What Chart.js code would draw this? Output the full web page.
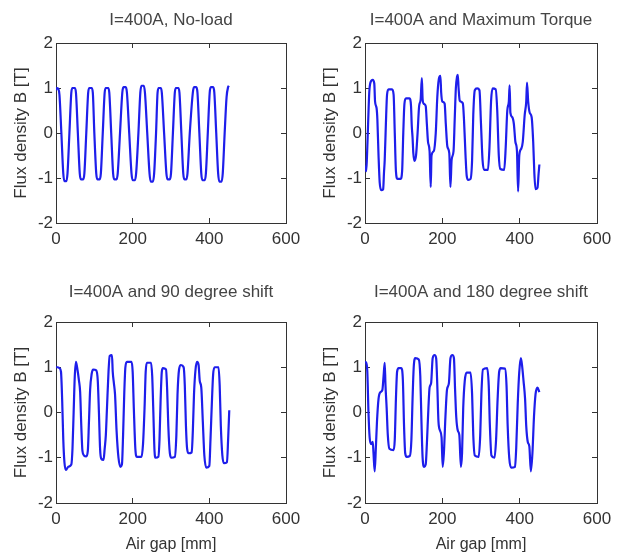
<!DOCTYPE html>
<html>
<head>
<meta charset="utf-8">
<script src="https://cdn.jsdelivr.net/npm/chart.js@4.4.0/dist/chart.umd.min.js"></script>
<style>
  html, body { margin: 0; padding: 0; background: #fff; overflow: hidden; width: 625px; height: 559px; }
  canvas { position: absolute; }
</style>
</head>
<body>
<canvas id="cNoLoad" width="312" height="270" style="left:0;top:0"></canvas>
<canvas id="cTorque" width="313" height="270" style="left:312px;top:0"></canvas>
<canvas id="cShift90" width="312" height="289" style="left:0;top:270px"></canvas>
<canvas id="cShift180" width="313" height="289" style="left:312px;top:270px"></canvas>
<script>
// ====== Données ======
const gapTicks  = [0, 200, 400, 600];
const fluxTicks = [-2, -1, 0, 1, 2];
const panelTitles = [
  "I=400A, No-load",
  "I=400A and Maximum Torque",
  "I=400A and 90 degree shift",
  "I=400A and 180 degree shift"
];
const yLabel = "Flux density B [T]";
const xLabel = "Air gap [mm]";

// [air gap mm, B T]
const noLoad = [
  [0,0.95],[2,1.0],[6,0.98],[9,0.85],[14,0],[19,-0.9],[22,-1.07],[27,-1.07],[30,-0.9],[35,0],
  [40,0.9],[43,1.0],[49,1.0],[52,0.9],[57,0],[62,-0.9],[65,-1.03],[71,-1.03],[74,-0.9],[79,0],
  [84,0.9],[87,1.0],[93,1.0],[96,0.9],[100,0],[105,-0.9],[108,-1.03],[114,-1.03],[117,-0.9],[122,0],
  [127,0.9],[130,1.0],[136,1.0],[139,0.9],[144,0],[149,-0.9],[152,-1.03],[158,-1.03],[161,-0.9],[167,0],
  [173,0.9],[176,1.02],[182,1.02],[185,0.9],[191,0],[197,-0.9],[200,-1.05],[206,-1.05],[209,-0.9],[215,0],
  [220,0.9],[223,1.05],[229,1.05],[232,0.9],[238,0],[244,-0.9],[247,-1.08],[253,-1.08],[256,-0.9],[261,0],
  [265,0.9],[268,1.0],[273,1.0],[276,0.9],[282,0],[288,-0.9],[291,-1.03],[297,-1.03],[300,-0.9],[305,0],
  [310,0.9],[313,1.0],[319,1.0],[322,0.9],[327,0],[332,-0.9],[335,-1.03],[340,-1.03],[343,-0.9],[349,0],
  [357,0.9],[360,1.02],[366,1.02],[369,0.9],[374,0],[379,-0.9],[382,-1.05],[388,-1.05],[391,-0.9],[396,0],
  [401,0.9],[404,1.02],[410,1.02],[413,0.9],[418,0],[423,-0.9],[426,-1.08],[432,-1.08],[435,-0.9],[440,0],
  [445,0.8],[449,1.02],[451,1.05]
];

const maxTorque = [
  [0,-0.72],[3,-0.85],[5,-0.55],[8,0.2],[11,0.9],[14,1.12],[20,1.18],[24,1.1],[26,0.7],[30,0.55],
  [32,0.3],[35,-0.5],[38,-1.1],[42,-1.27],[47,-1.25],[49,-0.9],[51,-0.6],[54,0.2],[57,0.85],[61,0.97],
  [70,0.97],[74,0.85],[77,0],[80,-0.85],[84,-1.02],[92,-1.02],[96,-0.85],[99,0],[102,0.65],[106,0.77],
  [115,0.77],[119,0.6],[121,0.15],[123,-0.1],[125,-0.45],[128,-0.62],[132,-0.5],[136,0],[140,0.6],[144,0.75],
  [147,1.22],[149,0.75],[152,0.65],[157,0.6],[160,0.2],[163,-0.2],[167,-0.4],[170,-1.2],[172,-0.5],[178,-0.4],
  [183,0],[187,0.8],[191,1.2],[195,1.27],[197,0.9],[200,0.7],[206,0.65],[209,0.2],[213,-0.3],[218,-0.45],
  [221,-1.2],[224,-0.6],[229,-0.4],[232,0.3],[235,1.0],[238,1.25],[240,1.29],[242,1.0],[245,0.72],[253,0.66],
  [256,0.3],[260,-0.5],[263,-0.95],[267,-1.04],[273,-1.02],[277,-0.6],[280,0.4],[284,0.95],[290,0.99],[296,0.95],
  [300,0.2],[304,-0.6],[308,-0.82],[318,-0.82],[322,-0.3],[326,0.7],[330,0.99],[338,0.97],[342,0.5],[346,-0.5],
  [350,-0.8],[360,-0.82],[364,-0.3],[368,0.5],[372,0.7],[374,1.06],[376,0.45],[381,0.35],[385,0.2],[389,-0.2],
  [393,-0.4],[396,-1.3],[399,-0.5],[404,-0.35],[408,-0.2],[413,0.4],[417,0.7],[419,1.12],[422,0.7],[426,0.45],
  [431,0.35],[435,-0.2],[438,-0.9],[441,-1.25],[446,-1.22],[449,-0.9],[451,-0.7]
];

const shift90 = [
  [0,1.0],[4,1.0],[9,0.98],[13,0.9],[16,0.3],[19,-0.6],[22,-1.1],[26,-1.27],[32,-1.2],[40,-1.15],
  [43,-0.8],[46,0],[49,0.8],[52,1.12],[55,1.0],[60,0.7],[63,0.45],[66,-0.3],[69,-0.85],[73,-0.95],
  [79,-0.97],[83,-0.85],[86,-0.2],[89,0.5],[93,0.85],[97,0.95],[105,0.93],[109,0.7],[112,0],[115,-0.8],
  [118,-1.02],[124,-1.05],[127,-0.8],[130,-0.5],[133,0.1],[137,0.9],[140,1.25],[146,1.27],[148,0.9],[151,0.65],
  [154,0.4],[158,-0.4],[163,-1.0],[168,-1.2],[172,-1.15],[175,-0.5],[178,0.4],[181,1.0],[185,1.12],[197,1.12],
  [200,0.9],[203,0.1],[207,-0.8],[211,-0.98],[223,-0.98],[227,-0.7],[231,0.1],[234,0.9],[237,1.1],[248,1.1],
  [251,0.8],[254,0],[257,-0.85],[260,-1.0],[267,-0.98],[270,-0.6],[273,0.3],[276,0.9],[279,0.98],[287,0.95],
  [290,0.5],[293,-0.3],[297,-0.9],[301,-1.0],[310,-0.98],[314,-0.5],[317,0.4],[321,0.95],[326,1.05],[333,1.0],
  [336,0.6],[339,-0.3],[342,-0.8],[346,-0.9],[354,-0.88],[357,-0.4],[360,0.4],[364,0.95],[368,1.12],[372,1.05],
  [375,0.7],[379,0.55],[383,-0.2],[387,-0.95],[392,-1.22],[400,-1.18],[403,-0.6],[407,0.3],[410,0.85],[414,1.0],
  [424,1.0],[427,0.6],[430,-0.3],[434,-0.95],[438,-1.12],[446,-1.1],[449,-0.6],[452,0.05]
];

const shift180 = [
  [0,1.12],[3,1.1],[6,0.9],[9,0],[12,-0.55],[16,-0.7],[20,-0.65],[22,-0.9],[25,-1.3],[28,-0.8],
  [31,-0.2],[35,0.3],[40,0.45],[45,0.5],[48,0.8],[51,1.1],[53,0.6],[56,0.1],[59,-0.5],[63,-0.8],
  [74,-0.83],[77,-0.6],[80,0.3],[83,0.9],[87,0.98],[94,0.98],[98,0.7],[101,-0.3],[104,-0.9],[108,-0.98],
  [116,-0.96],[120,-0.6],[123,0.3],[126,1.0],[130,1.2],[139,1.17],[143,0.8],[146,-0.2],[149,-1.0],[153,-1.2],
  [157,-1.15],[160,-0.7],[164,0.1],[167,0.55],[171,0.65],[175,1.2],[180,1.27],[184,1.2],[187,0.6],[190,-0.2],
  [194,-0.4],[198,-0.55],[201,-1.2],[204,-0.9],[208,-0.1],[212,0.5],[217,0.65],[221,1.2],[226,1.27],[230,1.2],
  [233,0.5],[236,-0.1],[240,-0.4],[244,-0.5],[248,-1.2],[251,-0.9],[254,0.1],[258,0.7],[263,0.88],[273,0.88],
  [277,0.4],[280,-0.5],[284,-0.95],[294,-0.98],[298,-0.5],[301,0.4],[305,0.95],[316,0.98],[320,0.6],[323,-0.3],
  [327,-0.95],[335,-1.0],[339,-0.6],[343,0.3],[347,0.9],[351,0.98],[362,0.97],[366,0.6],[369,-0.3],[373,-1.0],
  [378,-1.22],[388,-1.2],[391,-0.8],[395,0.2],[399,0.9],[403,1.2],[406,1.05],[410,0.7],[414,0.3],[417,-0.3],
  [421,-0.65],[425,-0.75],[429,-1.3],[433,-0.9],[437,-0.1],[441,0.4],[446,0.55],[451,0.45]
];

// ====== Style ======
const INK  = "#333";
const LINE = "rgb(30,30,235)";
Chart.defaults.font.family = "'Liberation Sans', Arial, sans-serif";
Chart.defaults.color = INK;

function tickAxis(pos, ticks, min, max, showLabels, fitSize) {
  const horizontal = pos === "top" || pos === "bottom";
  return {
    type: "linear",
    axis: horizontal ? "x" : "y",
    position: pos,
    min, max,
    afterBuildTicks: s => { s.ticks = ticks.map(v => ({ value: v })); },
    ticks: { display: showLabels, padding: horizontal ? 11 : 8, font: { size: 17 }, color: INK, maxRotation: 0, autoSkip: false },
    grid: { display: true, drawOnChartArea: false, drawTicks: true, tickLength: -5, color: INK },
    border: { display: true, color: INK, width: 1 },
    afterFit: s => { if (horizontal) s.height = fitSize; else s.width = fitSize; }
  };
}

// ====== Un sous-graphe ======
function makePanel(id, title, series, lay) {
  const x  = tickAxis("bottom", gapTicks, 0, 600, true, lay.xh);
  const x2 = tickAxis("top", gapTicks, 0, 600, false, 0);
  const y  = tickAxis("left", fluxTicks, -2, 2, true, lay.yw);
  const y2 = tickAxis("right", fluxTicks, -2, 2, false, 0);

  y.title = { display: true, text: yLabel, font: { size: 17 }, color: INK, padding: { top: lay.yt, bottom: 0 } };
  if (lay.xlab) {
    x.title = { display: true, text: xLabel, font: { size: 16 }, color: INK, padding: { top: 0, bottom: lay.xb } };
  }

  return new Chart(document.getElementById(id), {
    type: "line",
    data: {
      datasets: [{
        data: series.map(p => ({ x: p[0], y: p[1] })),
        borderColor: LINE,
        borderWidth: 2.2,
        pointRadius: 0,
        cubicInterpolationMode: "monotone",
        fill: false
      }]
    },
    options: {
      responsive: false,
      animation: false,
      events: [],
      layout: { padding: { left: 0, right: lay.pr, top: 0, bottom: 0 } },
      plugins: {
        legend: { display: false },
        tooltip: { enabled: false },
        title: {
          display: true,
          text: title,
          fullSize: false,
          color: "#444",
          font: { size: 17, weight: "normal" },
          padding: { top: lay.tt, bottom: lay.tb }
        }
      },
      scales: { x, x2, y, y2 }
    }
  });
}

// ====== INIT ======
makePanel("cNoLoad",   panelTitles[0], noLoad,    { xh: 47, yw: 56, pr: 26, yt: 11, tt: 10, tb: 12.6, xlab: false });
makePanel("cTorque",   panelTitles[1], maxTorque, { xh: 47, yw: 53, pr: 28, yt: 8,  tt: 10, tb: 12.6, xlab: false });
makePanel("cShift90",  panelTitles[2], shift90,   { xh: 56, yw: 56, pr: 26, yt: 11, tt: 12, tb: 19.6, xlab: true, xb: 5 });
makePanel("cShift180", panelTitles[3], shift180,  { xh: 56, yw: 53, pr: 28, yt: 8,  tt: 12, tb: 19.6, xlab: true, xb: 5 });
</script>
</body>
</html>
